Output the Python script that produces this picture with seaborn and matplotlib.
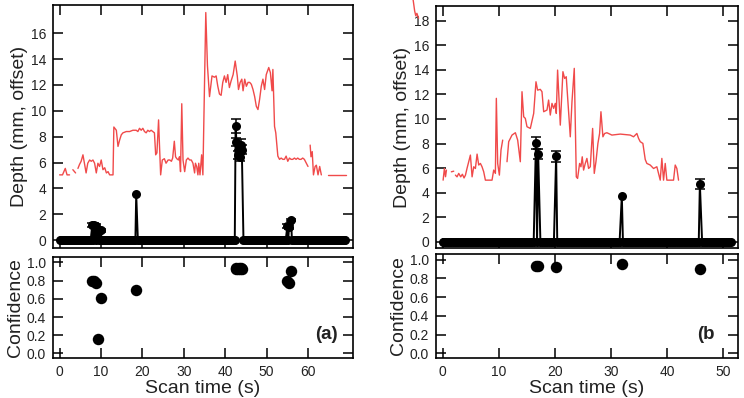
import numpy as np
import pandas as pd
import matplotlib
matplotlib.use("Agg")
import matplotlib.pyplot as plt
import seaborn as sns

nan = np.nan

# ---- panel (a) -------------------------------------------------------------
# red trace (surface depth, offset), NaN = dropout
surf_a_t = [0.0, 0.7, 1.37, 1.8, 2.4, 2.8, 3.2, 3.86, 4.1, 4.43, 4.8, 5.2, 5.64, 6.0, 6.4,
            6.8, 7.25, 7.65, 8.05, 8.45, 8.86, 9.25, 9.65, 10.05, 10.47, 10.9, 11.3, 11.7,
            12.08, 12.9, 13.1, 13.7, 14.1, 14.5, 14.9, 15.3, 16.1, 16.9, 17.7, 18.5, 18.9,
            19.3, 19.7, 20.1, 20.5, 20.9, 21.3, 21.7, 22.1, 22.5, 22.9, 23.2, 23.5, 23.9,
            24.1, 24.4, 24.8, 25.3, 25.7, 26.2, 26.6, 27.0, 27.3, 27.7, 28.0, 28.3, 28.7,
            28.95, 29.2, 29.5, 29.8, 30.2, 30.6, 31.0, 31.4, 31.8, 32.2, 32.6, 32.8, 33.1,
            33.4, 33.6, 33.9, 34.3, 34.6, 35.3, 35.7, 36.2, 36.8, 37.4, 37.8, 38.2, 38.6,
            39.0, 39.4, 39.8, 40.2, 40.6, 41.0, 41.4, 41.9, 42.4, 42.9, 43.2, 43.6, 44.0,
            44.3, 44.7, 45.1, 45.5, 45.9, 46.3, 46.7, 47.1, 47.5, 47.9, 48.3, 48.7, 49.1,
            49.5, 49.9, 50.5, 50.9, 51.3, 51.5, 51.9, 52.2, 52.7, 53.1, 53.5, 53.9, 54.3,
            54.7, 55.1, 55.5, 55.9, 56.3, 56.7, 57.1, 57.5, 57.9, 58.3, 58.7, 59.1, 59.98,
            60.2, 60.5, 60.7, 61.0, 61.3, 61.7, 62.0, 62.4, 62.8, 63.2, 64.0, 64.8, 66.0,
            67.5, 69.2]
surf_a_d = [5.05, 5.05, 5.55, 5.05, 5.05, nan, 5.45, 5.2, nan, 5.55, 5.85, 6.1, 6.6, 5.95, 5.2,
            5.95, 6.2, 6.1, 6.2, 5.95, 5.2, 5.95, 5.7, 6.2, 5.45, 5.6, 5.2, 5.3,
            5.05, 5.05, 8.75, 8.5, 7.25, 7.75, 8.15, 8.3, 8.4, 8.4, 8.5, 8.5, 8.4,
            8.65, 8.5, 8.65, 8.4, 8.3, 8.5, 8.4, 8.5, 8.4, 8.3, 6.6, 6.75, 9.3,
            7.5, 5.05, 6.2, 6.3, 5.95, 6.2, 6.2, 6.1, 6.35, 7.65, 6.45, 6.3, 6.2,
            6.45, 5.3, 10.55, 6.2, 5.3, 6.2, 6.35, 6.2, 6.2, 5.95, 5.2, 5.95, 5.7,
            5.05, 5.95, 5.05, 6.6, 5.05, 17.6, 13.5, 11.1, 12.7, 12.6, 12.7, 11.9, 11.3,
            11.2, 12.2, 12.7, 12.2, 12.8, 11.8, 12.3, 12.8, 13.85, 12.7, 11.65, 12.2, 12.45,
            11.55, 12.45, 11.9, 12.2, 12.2, 12.05, 11.65, 11.1, 10.35, 10.1, 10.9, 11.9, 12.45,
            11.65, 12.8, 13.35, 12.95, 11.55, 13.2, 8.8, 8.3, 6.5, 6.25, 6.35, 6.25, 6.25,
            6.5, 6.1, 6.35, 6.25, 6.25, 6.35, 6.25, 6.35, 6.25, 6.25, 6.35, 6.25, 5.7,
            nan, 7.35, 6.45, 6.85, 5.05, 5.7, 5.8, 5.05, 5.7, 5.05, nan, 5.05, 5.05,
            5.05, 5.05]

# detections (black): time, depth, error, confidence
det_a_t = [7.9, 8.4, 8.9, 9.3, 9.9, 18.5, 42.5, 42.7, 43.0, 43.2, 43.5, 43.8, 44.0, 55.0, 55.4, 55.9]
det_a_d = [1.2, 1.15, 1.1, 0.6, 0.75, 3.55, 8.85, 7.6, 6.6, 7.25, 6.4, 7.35, 7.0, 1.1, 1.0, 1.55]
det_a_err = [0.15, 0.15, 0.15, 0.15, 0.15, 0.0, 0.55, 0.3, 0.3, 0.3, 0.3, 0.45, 0.35, 0.15, 0.15, 0.1]
conf_a = [0.80, 0.79, 0.77, 0.16, 0.61, 0.70, 0.94, 0.93, 0.93, 0.94, 0.93, 0.94, 0.93, 0.79, 0.77, 0.91]
scan_end_a = 69.2

# ---- panel (b) -------------------------------------------------------------
surf_b_t = [-5.3, -5.0, -4.8, -4.6, -4.3, -4.0,
            0.07, 0.3, 0.5, 0.66, 1.0, 1.54, 1.96, 2.1, 2.26, 2.55, 2.85, 3.2, 3.5, 3.8,
            4.05, 4.34, 4.93, 5.23, 5.52, 5.82, 6.12, 6.41, 6.71, 7.0, 7.3, 7.6, 8.19,
            8.78, 9.08, 9.38, 9.55, 9.79, 10.09, 10.38, 10.68, 11.0, 11.45, 11.75, 12.34,
            12.94, 13.35, 13.82, 14.12, 14.42, 14.71, 15.01, 15.6, 16.2, 16.61, 16.9,
            17.38, 17.68, 17.98, 18.57, 18.86, 19.16, 19.46, 19.76, 20.05, 20.23, 20.46,
            20.94, 21.41, 21.71, 22.0, 22.3, 22.72, 23.02, 23.43, 23.79, 24.02, 24.38,
            24.62, 24.85, 25.09, 25.39, 25.68, 25.98, 26.28, 26.7, 26.99, 27.29, 27.64,
            27.94, 28.18, 28.53, 28.83, 29.24, 30.13, 31.62, 33.4, 33.99, 34.58, 34.88,
            35.18, 35.65, 36.07, 36.36, 36.96, 37.55, 38.14, 38.74, 39.03, 39.33, 39.63,
            39.92, 40.52, 41.11, 41.41, 41.7, 42.0]
surf_b_d = [19.8, 18.8, 18.4, 18.6, 18.2, nan,
            5.02, 5.97, 5.3, 5.84, nan, 5.7, 5.75, nan, 5.43, 5.29, 5.57, 5.29, 5.5, 5.2,
            5.43, 6.0, 7.06, 5.29, 6.11, 5.97, 7.14, 6.25, 6.38, 6.11, 5.7, 5.02, 5.02,
            5.02, 5.84, 5.57, 11.68, 6.38, 5.43, 7.47, 8.28, nan, 6.52, 8.15, 8.69,
            8.88, 8.28, 6.52, 12.22, 10.18, 10.05, 9.37, 9.23, 10.45, 13.03, 12.35,
            12.41, 12.22, 10.59, 10.73, 11.54, 10.32, 11.27, 10.86, 11.27, 10.45, 13.98,
            9.5, 13.85, 13.3, 13.44, 11.4, 8.55, 11.4, 14.12, 5.29, 5.16, 6.38,
            6.11, 6.92, 5.84, 6.38, 6.79, 5.97, 6.11, 9.23, 5.57, 6.52, 8.01,
            8.82, 10.59, 8.55, 8.82, 8.88, 8.69, 8.77, 8.69, 8.55, 8.82, 8.42,
            8.15, 8.01, 6.7, 6.38, 6.25, 5.97, 6.11, 5.02, 6.79, 5.02, 6.38,
            5.02, 5.02, 5.02, 6.25, 5.97, 5.02]

det_b_t = [16.6, 17.0, 20.2, 31.9, 45.8]
det_b_d = [8.05, 7.15, 6.95, 3.75, 4.72]
det_b_err = [0.5, 0.42, 0.45, 0.0, 0.4]
conf_b = [0.93, 0.93, 0.925, 0.95, 0.90]
scan_end_b = 51.4

frame_step = 0.3  # scan frames without a detection report depth 0

RED = "#f04a4a"
TXT = "#222222"


def surface_frame(t, d):
    df = pd.DataFrame({"t": t, "d": d})
    df["seg"] = df["d"].isna().cumsum()
    return df.dropna()


def depth_frame(end, det_t, det_d):
    frames = np.arange(0, end + 1e-9, frame_step)
    det = np.asarray(det_t)
    empty = [f for f in frames if np.min(np.abs(det - f)) > 0.15]
    t = np.concatenate([empty, det])
    d = np.concatenate([np.zeros(len(empty)), det_d])
    order = np.argsort(t)
    return pd.DataFrame({"t": t[order], "d": d[order]})


def style_axis(ax):
    ax.tick_params(direction="in", length=7, width=1.1, top=True, right=True,
                   labelsize=10, colors="black", labelcolor=TXT, pad=5)
    for sp in ax.spines.values():
        sp.set_linewidth(1.2)
        sp.set_color("black")
    ax.set_xlabel("")
    ax.set_ylabel("")


def draw_panel(ax_top, ax_bot, surf_t, surf_d, det_t, det_d, det_err, conf,
               end, xlim, ylim, yticks, xticks, tag):
    surf = surface_frame(surf_t, surf_d)
    sns.lineplot(data=surf, x="t", y="d", units="seg", estimator=None, color=RED,
                 linewidth=1.0, ax=ax_top, clip_on=False)
    depth = depth_frame(end, det_t, det_d)
    sns.lineplot(data=depth, x="t", y="d", color="black", linewidth=1.4, marker="o",
                 markersize=6.5, markeredgewidth=0, estimator=None, ax=ax_top)
    err = np.asarray(det_err)
    has = err > 0
    ax_top.errorbar(np.asarray(det_t)[has], np.asarray(det_d)[has], yerr=err[has],
                    fmt="none", ecolor="black", elinewidth=1.1, capsize=3.5, capthick=1.1)
    ax_top.set_xlim(*xlim)
    ax_top.set_ylim(*ylim)
    ax_top.set_yticks(yticks)
    ax_top.set_xticks(xticks)
    style_axis(ax_top)
    ax_top.tick_params(labelbottom=False)
    ax_top.set_ylabel("Depth (mm, offset)", fontsize=14, labelpad=2, color=TXT)

    cdf = pd.DataFrame({"t": det_t, "c": conf})
    sns.scatterplot(data=cdf, x="t", y="c", color="black", s=68, linewidth=0, ax=ax_bot)
    ax_bot.set_xlim(*xlim)
    ax_bot.set_ylim(-0.05, 1.06)
    ax_bot.set_xticks(xticks)
    ax_bot.set_yticks([0.0, 0.2, 0.4, 0.6, 0.8, 1.0])
    ax_bot.set_yticklabels(["0.0", "0.2", "0.4", "0.6", "0.8", "1.0"])
    style_axis(ax_bot)
    ax_bot.set_ylabel("Confidence", fontsize=14, labelpad=2, color=TXT)
    ax_bot.set_xlabel("Scan time (s)", fontsize=14, labelpad=1, color=TXT)
    ax_bot.text(tag[1], 0.23, tag[0], transform=ax_bot.transAxes, ha="right",
                va="center", fontsize=13.5, fontweight="bold", color=TXT)


sns.set_theme(style="ticks")
plt.rcParams["font.family"] = ["Liberation Sans", "DejaVu Sans"]

fig = plt.figure(figsize=(7.44, 3.98), dpi=100)
ax_a = fig.add_axes([0.0712, 0.377, 0.403, 0.611])
ax_a2 = fig.add_axes([0.0712, 0.1005, 0.403, 0.254])
ax_b = fig.add_axes([0.586, 0.377, 0.406, 0.608])
ax_b2 = fig.add_axes([0.586, 0.1005, 0.406, 0.261])

draw_panel(ax_a, ax_a2, surf_a_t, surf_a_d, det_a_t, det_a_d, det_a_err, conf_a,
           scan_end_a, (-1.6, 70.8), (-0.6, 18.2), list(range(0, 17, 2)),
           list(range(0, 70, 10)), ("(a)", 0.95))
draw_panel(ax_b, ax_b2, surf_b_t, surf_b_d, det_b_t, det_b_d, det_b_err, conf_b,
           scan_end_b, (-1.2, 52.6), (-0.5, 19.2), list(range(0, 19, 2)),
           list(range(0, 51, 10)), ("(b", 0.924))

fig.savefig("out.png", dpi=100)
